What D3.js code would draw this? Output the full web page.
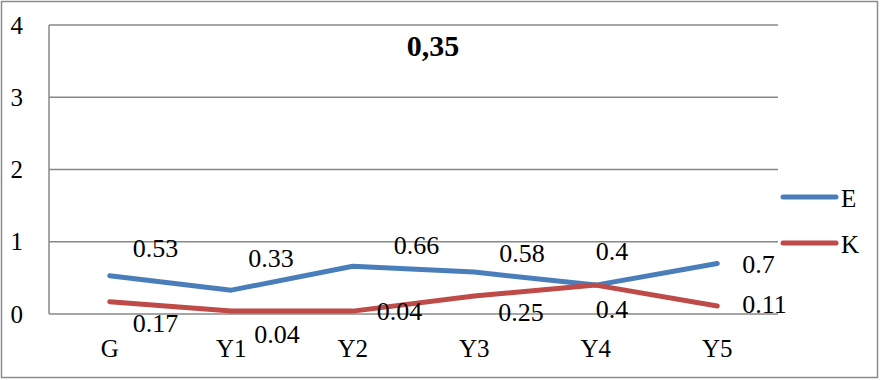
<!DOCTYPE html>
<html>
<head>
<meta charset="utf-8">
<script src="https://cdn.jsdelivr.net/npm/d3@7"></script>
<style>
  html, body { margin: 0; padding: 0; background: #fff; }
  svg { display: block; }
  text { font-family: "Liberation Serif", "DejaVu Serif", serif; fill: #000; }
</style>
</head>
<body>
<svg id="chart" width="880" height="380"></svg>
<script>
// Chart data
const categories = ["G", "Y1", "Y2", "Y3", "Y4", "Y5"];
const seriesNames = ["E", "K"];
const valuesE = [0.53, 0.33, 0.66, 0.58, 0.4, 0.7];
const valuesK = [0.17, 0.04, 0.04, 0.25, 0.4, 0.11];
const yTicks = [0, 1, 2, 3, 4];
const titleText = "0,35";

// Label placement relative to each point (dx to label start, dy to baseline)
const labelShiftE = [[23, -19], [17, -23], [41, -12], [25, -10], [0, -25], [25, 10]];
const labelShiftK = [[23, 30], [23, 32], [24, 9], [24, 25], [0, 33], [25, 7]];

const colors = { E: "#4A7EBB", K: "#BE4B48" };

const svg = d3.select("#chart");
const plot = { left: 49, right: 778, top: 25, bottom: 314 };

const x = d3.scaleBand().domain(categories).range([plot.left, plot.right]);
const cx = c => x(c) + x.bandwidth() / 2;
const y = d3.scaleLinear().domain([0, 4]).range([plot.bottom, plot.top]);

// Outer frame
svg.append("rect")
  .attr("x", 1.5).attr("y", 1.5).attr("width", 876).attr("height", 376)
  .attr("fill", "none").attr("stroke", "#8c8c8c").attr("stroke-width", 1.5);

// Gridlines
svg.append("g").selectAll("line").data(yTicks).join("line")
  .attr("x1", plot.left).attr("x2", plot.right)
  .attr("y1", d => y(d)).attr("y2", d => y(d))
  .attr("stroke", "#888").attr("stroke-width", 1.5);

// Vertical axis line
svg.append("line")
  .attr("x1", plot.left).attr("x2", plot.left)
  .attr("y1", y(4)).attr("y2", y(0))
  .attr("stroke", "#888").attr("stroke-width", 1.5);

// Y tick labels
svg.append("g").selectAll("text").data(yTicks).join("text")
  .attr("x", 23).attr("y", d => y(d))
  .attr("text-anchor", "end").attr("dominant-baseline", "central")
  .attr("font-size", 25)
  .text(d => d);

// Category labels
svg.append("g").selectAll("text").data(categories).join("text")
  .attr("x", d => cx(d)).attr("y", 357)
  .attr("text-anchor", "middle")
  .attr("font-size", 25)
  .text(d => d);

// Title
svg.append("text")
  .attr("x", 433).attr("y", 56)
  .attr("text-anchor", "middle")
  .attr("font-size", 30).attr("font-weight", "bold")
  .text(titleText);

const line = d3.line().x((d, i) => cx(categories[i])).y(d => y(d));

const series = [
  { name: "E", values: valuesE, shift: labelShiftE },
  { name: "K", values: valuesK, shift: labelShiftK }
];

series.forEach(s => {
  svg.append("path")
    .datum(s.values)
    .attr("d", line)
    .attr("fill", "none")
    .attr("stroke", colors[s.name])
    .attr("stroke-width", 5)
    .attr("stroke-linecap", "round")
    .attr("stroke-linejoin", "round");
});

series.forEach(s => {
  svg.append("g").selectAll("text").data(s.values).join("text")
    .attr("x", (d, i) => cx(categories[i]) + s.shift[i][0])
    .attr("y", (d, i) => y(d) + s.shift[i][1])
    .attr("font-size", 26)
    .text(d => d);
});

// Legend
const legend = svg.append("g").selectAll("g").data(seriesNames).join("g")
  .attr("transform", (d, i) => `translate(0, ${197 + i * 46})`);
legend.append("line")
  .attr("x1", 783).attr("x2", 836).attr("y1", 0).attr("y2", 0)
  .attr("stroke", d => colors[d]).attr("stroke-width", 5)
  .attr("stroke-linecap", "round");
legend.append("text")
  .attr("x", 841).attr("y", 10)
  .attr("font-size", 25)
  .text(d => d);
</script>
</body>
</html>
